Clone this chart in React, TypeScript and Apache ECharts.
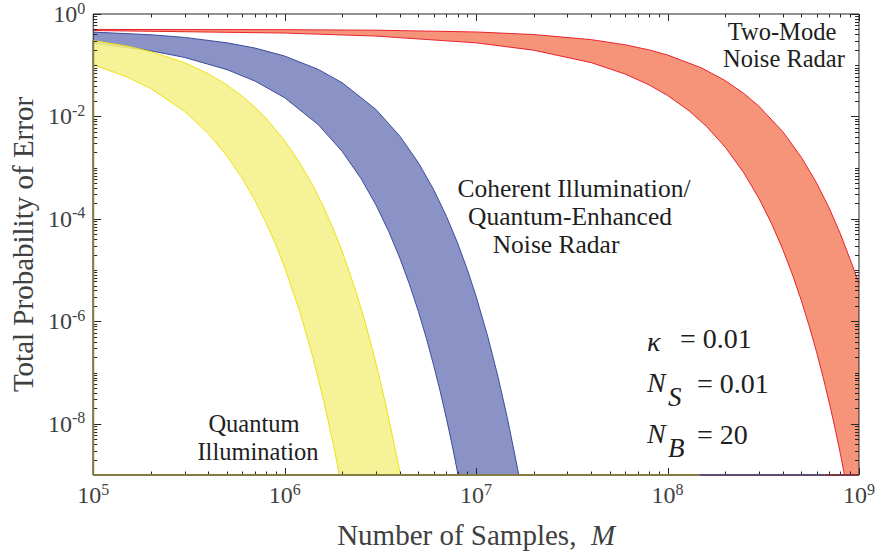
import React, { useEffect, useRef } from "react";
import * as echarts from "echarts";

// ---- axis limits & tick labels ----
const X_MIN = 1e5;
const X_MAX = 1e9;
const Y_MIN = 1e-9;
const Y_MAX = 1;
const xDecades = [5, 6, 7, 8, 9];
const yDecades = [-9, -8, -7, -6, -5, -4, -3, -2, -1, 0];
const yLabelled = [0, -2, -4, -6, -8];

// ---- Quantum Illumination band ----
const qiUpperM = [1e5, 1.5e5, 2e5, 3e5, 4e5, 5e5, 6e5, 7e5, 8e5, 1e6, 1.2e6, 1.4e6, 1.6e6, 1.8e6, 2e6, 2.3e6, 2.6e6, 3e6, 3.4e6, 3.7e6, 4.03e6];
const qiUpperP = [0.303, 0.236, 0.184, 0.112, 0.0677, 0.041, 0.0249, 0.0151, 0.00916, 0.00337, 0.00124, 4.56e-4, 1.68e-4, 6.17e-5, 2.27e-5, 5.07e-6, 1.13e-6, 1.53e-7, 2.07e-8, 4.62e-9, 1e-9];
const qiLowerM = [1e5, 1.5e5, 2e5, 3e5, 4e5, 5e5, 6e5, 7e5, 8e5, 9e5, 1e6, 1.2e6, 1.4e6, 1.6e6, 1.8e6, 1.93e6];
const qiLowerP = [0.1025, 0.0593, 0.035, 0.0126, 0.0046, 0.00169, 6.2e-4, 2.28e-4, 8.39e-5, 3.09e-5, 1.135e-5, 1.54e-6, 2.08e-7, 2.81e-8, 3.81e-9, 1e-9];

// ---- Coherent Illumination / Quantum-Enhanced Noise Radar band ----
const ciUpperM = [1e5, 2e5, 3e5, 5e5, 7e5, 1e6, 1.5e6, 2e6, 3e6, 4e6, 5e6, 6e6, 7e6, 8e6, 9e6, 1e7, 1.15e7, 1.3e7, 1.45e7, 1.6e7, 1.67e7];
const ciUpperP = [0.443, 0.393, 0.349, 0.274, 0.216, 0.151, 0.0826, 0.0454, 0.01366, 0.00411, 0.00124, 3.73e-4, 1.12e-4, 3.39e-5, 1.02e-5, 3.07e-6, 5.07e-7, 8.4e-8, 1.39e-8, 2.29e-9, 1e-9];
const ciLowerM = [1e5, 2e5, 3e5, 5e5, 7e5, 1e6, 1.5e6, 2e6, 2.5e6, 3e6, 3.5e6, 4e6, 4.5e6, 5e6, 5.5e6, 6e6, 6.5e6, 7e6, 7.5e6, 8.05e6];
const ciLowerP = [0.269, 0.191, 0.142, 0.082, 0.049, 0.0232, 0.00688, 0.00206, 6.2e-4, 1.87e-4, 5.62e-5, 1.69e-5, 5.1e-6, 1.54e-6, 4.63e-7, 1.39e-7, 4.2e-8, 1.26e-8, 3.81e-9, 1e-9];

// ---- Two-Mode Noise Radar band ----
const tmUpperM = [1e5, 1e6, 3e6, 1e7, 2e7, 4e7, 6e7, 8e7, 1e8, 1.5e8, 2e8, 2.5e8, 3e8, 4e8, 5e8, 6e8, 7e8, 8e8, 9e8, 1e9];
const tmUpperP = [0.4994, 0.4943, 0.483, 0.4457, 0.3973, 0.3157, 0.2508, 0.1993, 0.1583, 0.0891, 0.0501, 0.0282, 0.01587, 0.00503, 0.00159, 5.04e-4, 1.6e-4, 5.05e-5, 1.6e-5, 5.5e-6];
const tmLowerM = [1e5, 1e6, 3e6, 1e7, 2e7, 4e7, 6e7, 8e7, 1e8, 1.3e8, 1.6e8, 2e8, 2.5e8, 3e8, 3.5e8, 4e8, 4.5e8, 5e8, 5.5e8, 6e8, 6.5e8, 7e8, 7.5e8, 8e8, 8.4e8];
const tmLowerP = [0.476, 0.4246, 0.3709, 0.2733, 0.1964, 0.1122, 0.0674, 0.0414, 0.0257, 0.01274, 0.00635, 0.00252, 7.96e-4, 2.52e-4, 7.98e-5, 2.53e-5, 8.0e-6, 2.53e-6, 8.0e-7, 2.54e-7, 8.03e-8, 2.54e-8, 8.05e-9, 2.55e-9, 1e-9];

// ---- coloured stretches of the frame (as in the reference) ----
const bottomEdgeBreaks = [1e5, 1.48e8, 6.6e8, 1e9];
const bottomEdgeColors = ["#857c45", "#5e4b73", "#7d3848"];
const leftEdgeTop = 0.3;

const SERIF = '"Liberation Serif", "Times New Roman", serif';
const AXIS_GRAY = "#262626";
const LABEL_GRAY = "#404040";
const TEXT_DARK = "#1e1e1e";

function bandSeries(
  upM: number[], upP: number[], loM: number[], loP: number[],
  fill: string, edge: string, opacity: number, z: number, corner?: number[]
) {
  return {
    type: "custom",
    coordinateSystem: "cartesian2d",
    silent: true,
    clip: true,
    z,
    data: [[upM[0], upP[0]]],
    renderItem: (_params: any, api: any) => {
      const up = upM.map((m, i) => api.coord([m, upP[i]]));
      const lo = loM.map((m, i) => api.coord([m, loP[i]]));
      const pts = up.concat(corner ? [api.coord(corner)] : [], lo.slice().reverse());
      return {
        type: "group",
        children: [
          { type: "polygon", shape: { points: pts }, style: { fill, opacity, stroke: "none" } },
          { type: "polyline", shape: { points: up }, style: { stroke: edge, lineWidth: 1, fill: "none" } },
          { type: "polyline", shape: { points: lo }, style: { stroke: edge, lineWidth: 1, fill: "none" } },
        ],
      };
    },
  };
}

function frameSeries() {
  return {
    type: "custom",
    coordinateSystem: "cartesian2d",
    silent: true,
    clip: false,
    z: 20,
    data: [[X_MIN, Y_MIN]],
    renderItem: (_params: any, api: any) => {
      const bl = api.coord([X_MIN, Y_MIN]);
      const tr = api.coord([X_MAX, Y_MAX]);
      const left = bl[0], bottom = bl[1], right = tr[0], top = tr[1];
      const children: any[] = [];
      const line = (x1: number, y1: number, x2: number, y2: number, color = AXIS_GRAY, w = 1) =>
        children.push({ type: "line", shape: { x1, y1, x2, y2 }, style: { stroke: color, lineWidth: w } });
      for (const d of xDecades) {
        for (let k = 1; k <= 9; k++) {
          const v = k * Math.pow(10, d);
          if (v > X_MAX * 1.0001) break;
          const px = Math.round(api.coord([v, Y_MIN])[0]) + 0.5;
          const len = k === 1 ? 7 : 3.5;
          line(px, bottom, px, bottom - len);
          line(px, top, px, top + len);
        }
      }
      for (const d of yDecades) {
        for (let k = 1; k <= 9; k++) {
          const v = k * Math.pow(10, d);
          if (v > Y_MAX * 1.0001) break;
          const py = Math.round(api.coord([X_MIN, v])[1]) + 0.5;
          const len = k === 1 && yLabelled.includes(d) ? 8 : 4;
          line(left, py, left + len, py);
          line(right, py, right - len, py);
        }
      }
      line(left, top, right, top);
      line(right, top, right, bottom);
      line(left, top, left, bottom);
      line(left, bottom, right, bottom);
      const yl = api.coord([X_MIN, leftEdgeTop])[1];
      line(left, yl, left, bottom, bottomEdgeColors[0], 2);
      for (let i = 0; i < bottomEdgeColors.length; i++) {
        const xa = api.coord([bottomEdgeBreaks[i], Y_MIN])[0];
        const xb = api.coord([bottomEdgeBreaks[i + 1], Y_MIN])[0];
        line(xa, bottom, xb, bottom, bottomEdgeColors[i], 2);
      }
      return { type: "group", children };
    },
  };
}

const supRich = {
  b: { fontFamily: SERIF, fontSize: 24, lineHeight: 28, color: LABEL_GRAY },
  s: { fontFamily: SERIF, fontSize: 16, lineHeight: 18, color: LABEL_GRAY, verticalAlign: "top" },
};

function expOf(v: number) {
  return Math.round(Math.log10(v));
}

function txt(text: string, x: number, y: number, size: number, opts: any = {}) {
  return {
    type: "text",
    x,
    y,
    silent: true,
    z: 30,
    style: {
      text,
      font: `${opts.italic ? "italic " : ""}${size}px ${SERIF}`,
      fill: opts.color || TEXT_DARK,
      align: opts.align || "center",
      verticalAlign: "middle",
    },
  };
}

export default function App() {
  const ref = useRef<HTMLDivElement>(null);
  useEffect(() => {
    if (!ref.current) return;
    const chart = echarts.init(ref.current, undefined, { renderer: "svg" });
    const option: any = {
      animation: false,
      grid: { left: 90, right: 16, top: 12, bottom: 83 },
      xAxis: {
        type: "log",
        logBase: 10,
        min: X_MIN,
        max: X_MAX,
        splitNumber: 4,
        axisLine: { show: false },
        axisTick: { show: false },
        splitLine: { show: false },
        axisLabel: {
          margin: 6,
          formatter: (v: number) => `{b|10}{s|${expOf(v)}}`,
          rich: supRich,
        },
        name: "{n|Number of Samples,  }{m|M}",
        nameLocation: "middle",
        nameGap: 45,
        nameTextStyle: {
          rich: {
            n: { fontFamily: SERIF, fontSize: 29, color: LABEL_GRAY },
            m: { fontFamily: SERIF, fontSize: 29, color: LABEL_GRAY, fontStyle: "italic" },
          },
        },
      },
      yAxis: {
        type: "log",
        logBase: 10,
        min: Y_MIN,
        max: Y_MAX,
        splitNumber: 9,
        axisLine: { show: false },
        axisTick: { show: false },
        splitLine: { show: false },
        axisLabel: {
          margin: 8,
          formatter: (v: number) => {
            const e = expOf(v);
            return yLabelled.includes(e) ? `{b|10}{s|${e}}` : "";
          },
          rich: supRich,
        },
        name: "Total Probability of Error",
        nameLocation: "middle",
        nameGap: 53,
        nameTextStyle: { fontFamily: SERIF, fontSize: 29, color: LABEL_GRAY },
      },
      series: [
        bandSeries(tmUpperM, tmUpperP, tmLowerM, tmLowerP, "#f59479", "#e8232d", 1, 2, [X_MAX, Y_MIN]),
        bandSeries(ciUpperM, ciUpperP, ciLowerM, ciLowerP, "#8a92c6", "#3c4d9c", 1, 3),
        bandSeries(qiUpperM, qiUpperP, qiLowerM, qiLowerP, "#f4f087", "#f0e010", 0.87, 4),
        frameSeries(),
      ],
      graphic: [
        txt("Two-Mode", 782, 31, 24.5),
        txt("Noise Radar", 784, 58, 24.5),
        txt("Coherent Illumination/", 574, 188, 25.5),
        txt("Quantum-Enhanced", 570, 216, 25.5),
        txt("Noise Radar", 556, 244, 25.5),
        txt("Quantum", 254, 423, 24.5),
        txt("Illumination", 258, 451, 24.5),
        txt("κ", 647, 341, 28, { italic: true, align: "left" }),
        txt("= 0.01", 680, 338, 28, { align: "left" }),
        txt("N", 647, 382, 28, { italic: true, align: "left" }),
        txt("S", 668, 397, 27, { italic: true, align: "left" }),
        txt("= 0.01", 697, 383, 28, { align: "left" }),
        txt("N", 647, 433, 28, { italic: true, align: "left" }),
        txt("B", 668, 448, 27, { italic: true, align: "left" }),
        txt("= 20", 697, 434, 28, { align: "left" }),
      ],
    };
    chart.setOption(option);
    return () => chart.dispose();
  }, []);
  return (
    <div
      ref={ref}
      style={{ position: "fixed", left: 0, top: 0, width: 878, height: 558, background: "#ffffff" }}
    />
  );
}
